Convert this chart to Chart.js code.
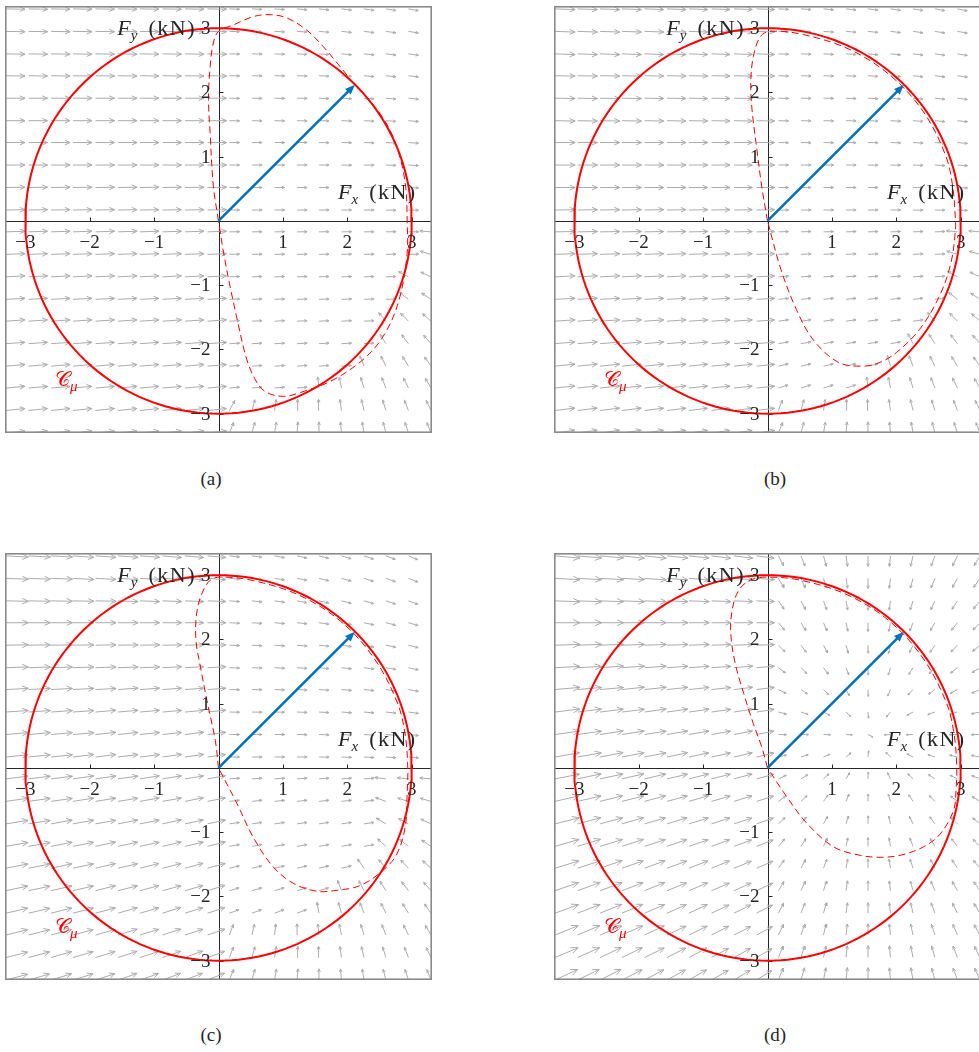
<!DOCTYPE html>
<html>
<head>
<meta charset="utf-8">
<script src="https://cdn.jsdelivr.net/npm/chart.js@4.4.1/dist/chart.umd.min.js"></script>
<style>
  body{margin:0;background:#fff;width:979px;height:1052px;overflow:hidden;position:relative;font-family:"Liberation Serif","DejaVu Serif",serif;color:#262626;}
  .panel{position:absolute;width:427px;height:427px;}
  .panel canvas{position:absolute;left:0;top:0;}
  .lbl{position:absolute;font-size:22px;line-height:22px;white-space:nowrap;}
  .lbl sub{font-size:15px;vertical-align:-5px;line-height:0;}
  .lbl .u{letter-spacing:1.5px;}
  .cmu{color:#ff0000;font-size:21px;}
  .cap{position:absolute;font-size:19px;width:60px;text-align:center;}
</style>
</head>
<body>
<div class="panel" id="pA" style="left:5px;top:6px"><canvas id="cA" width="427" height="427"></canvas></div>
<div class="panel" id="pB" style="left:554px;top:6px"><canvas id="cB" width="427" height="427"></canvas></div>
<div class="panel" id="pC" style="left:5px;top:553px"><canvas id="cC" width="427" height="427"></canvas></div>
<div class="panel" id="pD" style="left:554px;top:553px"><canvas id="cD" width="427" height="427"></canvas></div>
<div class="cap" style="left:181px;top:468px">(a)</div>
<div class="cap" style="left:745px;top:468px">(b)</div>
<div class="cap" style="left:181px;top:1024px">(c)</div>
<div class="cap" style="left:745px;top:1024px">(d)</div>
<script>
// axes (kN)
const X_RANGE = [-3.316, 3.316];
const Y_RANGE = [-3.30, 3.345];
const TICKS = [-3, -2, -1, 1, 2, 3];
// quiver grid, tail positions
const gridX = [-3.3,-2.95,-2.6,-2.26,-1.91,-1.56,-1.22,-0.87,-0.52,-0.17,0.17,0.52,0.87,1.22,1.56,1.91,2.26,2.6,2.95,3.3];
const gridY = [3.3,2.95,2.6,2.26,1.91,1.56,1.22,0.87,0.52,0.17,-0.17,-0.52,-0.87,-1.22,-1.56,-1.91,-2.26,-2.6,-2.95,-3.3];
const circleR = 3;          // friction circle C_mu
const blueTip = [2.12, 2.12];

// dashed force paths, one per panel
const dashAx = [0,-0.08,-0.13,-0.155,-0.13,-0.08,0,0.23,0.54,0.80,1.06,1.37,1.63,1.89,2.12,2.45,2.67,2.83,2.91,2.93,2.93,2.82,2.62,2.31,1.79,1.27,1.01,0.75,0.60,0.44,0.29,0.18,0.08,0];
const dashAy = [0,0.54,1.37,1.89,2.40,2.77,2.95,3.05,3.18,3.21,3.16,2.97,2.71,2.40,2.12,1.75,1.40,0.95,0.5,0,-0.5,-1.17,-1.69,-2.10,-2.47,-2.67,-2.73,-2.67,-2.52,-2.16,-1.53,-1.02,-0.50,0];
const dashBx = [0,-0.09,-0.165,-0.24,-0.26,-0.22,-0.11,0.04,0.51,1.25,1.9,2.42,2.77,2.88,2.92,2.92,2.85,2.67,2.36,2.0,1.75,1.48,1.1,0.71,0.45,0.21,0];
const dashBy = [0,0.54,1.11,1.73,2.15,2.56,2.87,2.95,2.91,2.68,2.27,1.70,1.01,0.51,0,-0.14,-0.65,-1.17,-1.69,-2.05,-2.2,-2.26,-2.2,-1.85,-1.38,-0.76,0];
const dashCx = [0,-0.05,-0.18,-0.28,-0.35,-0.34,-0.26,-0.13,0.03,0.52,1.25,1.9,2.42,2.78,2.9,2.94,2.93,2.90,2.77,2.56,2.20,1.79,1.53,1.17,0.85,0.54,0.29,0];
const dashCy = [0,0.43,1.05,1.57,1.98,2.40,2.71,2.92,2.97,2.92,2.69,2.28,1.70,1.01,0.51,0,-0.4,-0.92,-1.34,-1.59,-1.83,-1.91,-1.92,-1.80,-1.54,-1.08,-0.56,0];
const dashDx = [0,-0.09,-0.22,-0.37,-0.50,-0.57,-0.55,-0.45,-0.27,0,0.52,1.25,1.9,2.42,2.78,2.9,2.94,2.93,2.89,2.68,2.42,2.06,1.75,1.44,1.03,0.61,0.30,0];
const dashDy = [0,0.33,0.69,1.16,1.62,2.08,2.45,2.76,2.92,2.97,2.92,2.69,2.28,1.70,1.01,0.51,0,-0.3,-0.66,-1.03,-1.23,-1.36,-1.39,-1.36,-1.23,-0.86,-0.45,0];

// quiver: angle (deg) per arrow, rows top->bottom, columns left->right
const angA = [
  [-1,-1,-1,-1,-1,-1,-1,-1,-1,-1,-2,-3,-4,-5,-6,-7,-8,-9,-10,-11],
  [-1,-1,-1,-1,-1,-1,-1,-1,-1,-1,-2,-2,-3,-4,-5,-6,-7,-8,-9,-10],
  [-1,-1,-1,-1,-1,-1,-1,-1,-1,-1,-1,-1,-2,-3,-4,-5,-6,-7,-8,-9],
  [-1,-1,-1,-1,-1,-1,-1,-1,-1,-1,-1,-1,-1,-2,-3,-4,-5,-6,-7,-8],
  [0,0,0,0,0,0,0,0,0,0,-1,-1,-1,-1,-2,-3,-4,-5,-6,-7],
  [0,0,0,0,0,0,0,0,0,0,-1,-1,-1,-1,-1,-2,-3,-4,-5,-6],
  [0,0,0,0,0,0,0,0,0,0,0,0,0,0,-1,-1,-2,-3,-4,-5],
  [0,0,0,0,0,0,0,0,0,0,0,0,0,0,0,-1,-1,-2,-3,-4],
  [1,1,1,1,1,1,1,1,1,1,0,0,0,0,0,0,-1,-1,-2,-3],
  [1,1,1,1,1,1,1,1,1,1,0,0,0,0,0,0,0,-1,-1,-2],
  [2,2,2,2,2,2,2,2,2,2,1,1,1,1,1,1,1,1,1,175],
  [2,2,2,2,2,2,2,2,2,2,1,1,1,1,1,1,1,1,1,164],
  [3,3,3,3,3,3,3,3,3,3,2,2,2,2,2,2,2,2,152,155],
  [3,3,3,3,3,3,3,3,3,3,2,2,2,2,2,2,2,2,142,146],
  [4,4,4,4,4,4,4,4,4,4,3,3,3,3,3,3,3,130,134,138],
  [4,4,4,4,4,4,4,4,4,4,3,3,3,3,3,3,3,122,127,131],
  [5,5,5,5,5,5,5,5,5,5,4,4,4,4,4,4,111,116,121,125],
  [5,5,5,5,5,5,5,5,5,5,5,5,5,5,96,101,107,111,116,120],
  [6,6,6,6,6,6,6,6,6,6,62,75,81,87,92,98,103,107,111,115],
  [6,6,6,6,6,6,6,6,6,6,69,75,80,85,90,95,99,104,108,111]
];
const angB = [
  [-2,-2,-2,-2,-2,-2,-2,-2,-2,-2,-3,-4,-5,-6,-7,-8,-9,-10,-11,-12],
  [-2,-2,-2,-2,-2,-2,-2,-2,-2,-2,-3,-3,-4,-5,-6,-7,-8,-9,-10,-11],
  [-2,-2,-2,-2,-2,-2,-2,-2,-2,-2,-2,-2,-3,-4,-5,-6,-7,-8,-9,-10],
  [-1,-1,-1,-1,-1,-1,-1,-1,-1,-1,-2,-2,-2,-3,-4,-5,-6,-7,-8,-9],
  [-1,-1,-1,-1,-1,-1,-1,-1,-1,-1,-1,-1,-1,-2,-3,-4,-5,-6,-7,-8],
  [-1,-1,-1,-1,-1,-1,-1,-1,-1,-1,-1,-1,-1,-1,-2,-3,-4,-5,-6,-7],
  [0,0,0,0,0,0,0,0,0,0,-1,-1,-1,-1,-1,-2,-3,-4,-5,-6],
  [0,0,0,0,0,0,0,0,0,0,0,0,0,0,-1,-1,-2,-3,-4,-5],
  [0,0,0,0,0,0,0,0,0,0,0,0,0,0,0,-1,-1,-2,-3,-4],
  [1,1,1,1,1,1,1,1,1,1,0,0,0,0,0,0,-1,-1,-2,-3],
  [1,1,1,1,1,1,1,1,1,1,2,2,2,2,2,2,2,2,174,175],
  [2,2,2,2,2,2,2,2,2,2,3,3,3,3,3,3,3,3,163,164],
  [3,3,3,3,3,3,3,3,3,3,4,4,4,4,4,4,4,4,152,155],
  [3,3,3,3,3,3,3,3,3,3,6,6,6,6,6,6,6,6,142,146],
  [4,4,4,4,4,4,4,4,4,4,8,8,8,8,8,8,8,130,134,138],
  [5,5,5,5,5,5,5,5,5,5,10,10,10,10,10,10,117,122,127,131],
  [6,6,6,6,6,6,6,6,6,6,13,13,13,13,13,106,111,116,121,125],
  [6,6,6,6,6,6,6,6,6,6,17,17,17,17,96,101,107,111,116,120],
  [7,7,7,7,7,7,7,7,7,7,70,75,81,87,92,98,103,107,111,115],
  [8,8,8,8,8,8,8,8,8,8,69,75,80,85,90,95,99,104,108,111]
];
const angC = [
  [-3,-3,-3,-4,-4,-4,-4,-5,-5,-5,-6,-8,-10,-12,-14,-16,-18,-20,-22,-24],
  [-2,-2,-2,-3,-3,-3,-3,-3,-4,-4,-5,-7,-9,-11,-13,-15,-17,-19,-21,-23],
  [-1,-1,-1,-1,-1,-2,-2,-2,-2,-2,-4,-6,-8,-10,-12,-14,-16,-18,-20,-22],
  [0,0,0,0,0,0,0,0,0,0,-3,-4,-5,-6,-8,-10,-12,-14,-16,-18],
  [1,1,1,1,1,1,1,1,1,1,-2,-3,-4,-5,-6,-8,-10,-12,-14,-16],
  [2,2,2,2,2,2,2,3,3,3,-2,-2,-3,-4,-5,-6,-8,-10,-12,-14],
  [3,3,3,3,3,4,4,4,4,4,-1,-1,-2,-3,-4,-5,-6,-8,-10,-12],
  [4,4,4,4,5,5,5,5,5,6,-1,-1,-1,-2,-3,-4,-5,-6,-8,-10],
  [5,5,5,5,6,6,6,6,7,7,0,0,0,-1,-2,-3,-4,-5,-6,-8],
  [6,6,6,7,7,7,7,8,8,8,0,0,0,0,-1,-2,-3,-4,-5,-6],
  [7,7,7,8,8,8,9,9,9,10,4,4,4,4,4,4,4,173,174,175],
  [8,8,8,9,9,9,10,10,11,11,6,6,6,6,6,6,6,160,163,164],
  [9,9,10,10,10,11,11,12,12,12,8,8,8,8,8,8,8,149,152,155],
  [10,10,11,11,12,12,12,13,13,14,10,10,10,10,10,10,10,138,142,146],
  [11,11,12,12,13,13,14,14,15,15,13,13,13,13,13,13,125,130,134,138],
  [12,12,13,13,14,14,15,15,16,17,16,16,16,16,16,111,117,122,127,131],
  [13,13,14,14,15,16,16,17,17,18,20,20,20,20,100,106,111,116,121,125],
  [14,14,15,15,16,17,17,18,18,19,70,77,83,90,96,101,107,111,116,120],
  [14,15,16,16,17,18,18,19,20,20,70,75,81,87,92,98,103,107,111,115],
  [15,16,17,17,18,19,19,20,21,22,69,75,80,85,90,95,99,104,108,111]
];
const angD = [
  [-5,-5,-5,-6,-6,-6,-6,-7,-7,-7,-63,-69,-75,-82,-89,-96,-103,-110,-116,-121],
  [-3,-3,-3,-3,-4,-4,-4,-4,-4,-4,-60,-66,-73,-81,-89,-97,-105,-112,-119,-125],
  [-2,-2,-2,-2,-2,-2,-2,-2,-2,-2,-56,-63,-71,-80,-89,-98,-107,-115,-123,-129],
  [0,0,0,0,0,0,0,0,0,0,-51,-59,-68,-78,-89,-100,-111,-120,-128,-134],
  [2,2,2,2,2,2,2,2,2,2,-45,-53,-63,-75,-88,-102,-115,-125,-134,-140],
  [3,3,4,4,4,4,4,4,5,5,-37,-45,-55,-70,-88,-106,-122,-133,-142,-148],
  [5,5,5,6,6,6,6,6,7,7,-27,-34,-45,-62,-87,-113,-133,-144,-152,-157],
  [7,7,7,7,8,8,8,8,9,9,-15,-19,-27,-44,-84,-130,-151,-160,-165,-168],
  [8,8,9,9,9,10,10,10,11,11,-1,-1,-2,-3,-27,-176,-178,-179,-179,-179],
  [10,10,11,11,11,12,12,12,13,13,13,17,24,41,83,133,153,162,166,169],
  [11,12,12,13,13,13,14,14,15,15,25,32,43,60,87,115,135,146,154,159],
  [13,13,14,14,15,15,16,16,17,17,36,43,54,70,88,107,123,134,143,149],
  [14,15,15,16,16,17,17,18,18,19,44,52,62,74,88,103,116,126,135,141],
  [16,17,17,18,18,19,19,20,20,21,50,58,67,78,89,100,111,120,128,135],
  [17,18,19,19,20,20,21,22,22,23,55,62,70,80,89,99,108,116,123,130],
  [19,20,20,21,22,22,23,23,24,25,59,66,73,81,89,97,105,113,119,125],
  [20,21,22,23,23,24,25,25,26,27,63,69,75,82,89,96,103,110,116,122],
  [22,23,23,24,25,25,26,27,27,28,65,71,77,83,89,96,102,108,113,119],
  [23,24,25,26,26,27,28,28,29,30,68,73,78,84,89,95,101,106,111,116],
  [25,26,27,27,28,29,30,30,31,32,69,74,79,84,89,95,100,105,110,114]
];

// arrow lengths in tenths of a grid step: left half per column, right half per arrow
const lenLeftA = [8.5,8.5,8.5,8.5,8.5,8.5,8.5,8.5,8.5,8.5];
const lenLeftB = [9,8.9,8.8,8.7,8.6,8.5,8.4,8.3,8.2,8.1];
const lenLeftC = [10,9.8,9.6,9.4,9.2,9,8.8,8.6,8.4,8.2];
const lenLeftD = [11.2,10.8,10.5,10.1,9.8,9.4,9.1,8.7,8.4,8.0];
const lenRightA = [
  [4.5,4.5,4.5,4.5,4.5,4.5,4.5,4.5,4.5,4.5],[4.5,4.5,4.5,4.5,4.5,4.5,4.5,4.5,4.5,4.5],[4.5,4.5,4.5,4.5,4.5,4.5,4.5,4.5,4.5,4.5],[4.5,4.5,4.5,4.5,4.5,4.5,4.5,4.5,4.5,4.5],
  [4.5,4.5,4.5,4.5,4.5,4.5,4.5,4.5,4.5,4.5],[4.5,4.5,4.5,4.5,4.5,4.5,4.5,4.5,4.5,4.5],[4.5,4.5,4.5,4.5,4.5,4.5,4.5,4.5,4.5,4.5],[4.5,4.5,4.5,4.5,4.5,4.5,4.5,4.5,4.5,4.5],
  [4.5,4.5,4.5,4.5,4.5,4.5,4.5,4.5,4.5,4.5],[4.5,4.5,4.5,4.5,4.5,4.5,4.5,4.5,4.5,4.5],[4.5,4.5,4.5,4.5,4.5,4.5,4.5,4.5,4.5,5],[4.5,4.5,4.5,4.5,4.5,4.5,4.5,4.5,4.5,5],
  [4.5,4.5,4.5,4.5,4.5,4.5,4.5,4.5,5,5],[4.5,4.5,4.5,4.5,4.5,4.5,4.5,4.5,5,5],[4.5,4.5,4.5,4.5,4.5,4.5,4.5,5,5,5],[4.5,4.5,4.5,4.5,4.5,4.5,4.5,5,5,5],
  [4.5,4.5,4.5,4.5,4.5,4.5,5,5,5,5],[4.5,4.5,4.5,4.5,5,5,5,5,5,5],[5,5,5,5,5,5,5,5,5,5],[5,5,5,5,5,5,5,5,5,5]
];
const lenRightB = [
  [4.5,4.5,4.5,4.5,4.5,4.5,4.5,4.5,4.5,4.5],[4.5,4.5,4.5,4.5,4.5,4.5,4.5,4.5,4.5,4.5],[4.5,4.5,4.5,4.5,4.5,4.5,4.5,4.5,4.5,4.5],[4.5,4.5,4.5,4.5,4.5,4.5,4.5,4.5,4.5,4.5],
  [4.5,4.5,4.5,4.5,4.5,4.5,4.5,4.5,4.5,4.5],[4.5,4.5,4.5,4.5,4.5,4.5,4.5,4.5,4.5,4.5],[4.5,4.5,4.5,4.5,4.5,4.5,4.5,4.5,4.5,4.5],[4.5,4.5,4.5,4.5,4.5,4.5,4.5,4.5,4.5,4.5],
  [4.5,4.5,4.5,4.5,4.5,4.5,4.5,4.5,4.5,4.5],[4.5,4.5,4.5,4.5,4.5,4.5,4.5,4.5,4.5,4.5],[4.5,4.5,4.5,4.5,4.5,4.5,4.5,4.5,5,5],[4.5,4.5,4.5,4.5,4.5,4.5,4.5,4.5,5,5],
  [4.5,4.5,4.5,4.5,4.5,4.5,4.5,4.5,5,5],[4.5,4.5,4.5,4.5,4.5,4.5,4.5,4.5,5,5],[4.5,4.5,4.5,4.5,4.5,4.5,4.5,5,5,5],[4.5,4.5,4.5,4.5,4.5,4.5,5,5,5,5],
  [4.5,4.5,4.5,4.5,4.5,5,5,5,5,5],[4.5,4.5,4.5,4.5,5,5,5,5,5,5],[5,5,5,5,5,5,5,5,5,5],[5,5,5,5,5,5,5,5,5,5]
];
const lenRightC = [
  [4.5,4.5,4.5,4.5,4.5,4.5,4.5,4.5,4.5,4.5],[4.5,4.5,4.5,4.5,4.5,4.5,4.5,4.5,4.5,4.5],[4.5,4.5,4.5,4.5,4.5,4.5,4.5,4.5,4.5,4.5],[4.5,4.5,4.5,4.5,4.5,4.5,4.5,4.5,4.5,4.5],
  [4.5,4.5,4.5,4.5,4.5,4.5,4.5,4.5,4.5,4.5],[4.5,4.5,4.5,4.5,4.5,4.5,4.5,4.5,4.5,4.5],[4.5,4.5,4.5,4.5,4.5,4.5,4.5,4.5,4.5,4.5],[4.5,4.5,4.5,4.5,4.5,4.5,4.5,4.5,4.5,4.5],
  [4.5,4.5,4.5,4.5,4.5,4.5,4.5,4.5,4.5,4.5],[4.5,4.5,4.5,4.5,4.5,4.5,4.5,4.5,4.5,4.5],[4.5,4.5,4.5,4.5,4.5,4.5,4.5,5,5,5],[4.5,4.5,4.5,4.5,4.5,4.5,4.5,5,5,5],
  [4.5,4.5,4.5,4.5,4.5,4.5,4.5,5,5,5],[4.5,4.5,4.5,4.5,4.5,4.5,4.5,5,5,5],[4.5,4.5,4.5,4.5,4.5,4.5,5,5,5,5],[4.5,4.5,4.5,4.5,4.5,5,5,5,5,5],
  [4.5,4.5,4.5,4.5,5,5,5,5,5,5],[5,5,5,5,5,5,5,5,5,5],[5,5,5,5,5,5,5,5,5,5],[5,5,5,5,5,5,5,5,5,5]
];
const lenRightD = [
  [5.0,4.9,4.8,4.8,4.7,4.8,4.8,4.9,5.0,5.1],[4.8,4.6,4.5,4.5,4.5,4.5,4.5,4.6,4.7,4.9],
  [4.5,4.4,4.3,4.2,4.2,4.2,4.3,4.4,4.5,4.7],[4.3,4.1,4.0,3.9,3.9,3.9,4.0,4.1,4.3,4.5],
  [4.1,3.9,3.8,3.7,3.6,3.7,3.7,3.9,4.1,4.3],[3.9,3.7,3.5,3.4,3.3,3.4,3.5,3.7,3.9,4.1],
  [3.8,3.5,3.3,3.1,3.1,3.1,3.3,3.5,3.7,4.0],[3.7,3.4,3.2,2.9,2.8,2.9,3.1,3.4,3.6,3.9],
  [3.6,3.4,3.1,2.8,2.5,2.7,3.0,3.3,3.6,3.9],[3.7,3.4,3.1,2.9,2.8,2.9,3.1,3.3,3.6,3.9],
  [3.8,3.5,3.3,3.1,3.0,3.1,3.3,3.5,3.7,4.0],[3.9,3.7,3.5,3.4,3.3,3.4,3.5,3.6,3.9,4.1],
  [4.1,3.9,3.7,3.6,3.6,3.6,3.7,3.9,4.0,4.2],[4.3,4.1,4.0,3.9,3.9,3.9,4.0,4.1,4.3,4.4],
  [4.5,4.4,4.3,4.2,4.1,4.2,4.2,4.3,4.5,4.6],[4.7,4.6,4.5,4.5,4.4,4.4,4.5,4.6,4.7,4.9],
  [5.0,4.9,4.8,4.7,4.7,4.7,4.8,4.9,5.0,5.1],[5.2,5.1,5.0,5.0,5.0,5.0,5.0,5.1,5.2,5.3],
  [5.5,5.4,5.3,5.3,5.3,5.3,5.3,5.4,5.5,5.6],[5.7,5.7,5.6,5.6,5.5,5.5,5.6,5.6,5.7,5.8]
];

const SERIF = '"Liberation Serif","DejaVu Serif",serif';
const STEP = 0.0347;   // a tenth of the grid step, in kN

function quiver(ang, lenLeft, lenRight){
  const pts = [];
  for (let r = 0; r < gridY.length; r++) {
    for (let c = 0; c < gridX.length; c++) {
      const L = (c < 10 ? lenLeft[c] : lenRight[r][c-10]) * STEP;
      const a = ang[r][c] * Math.PI / 180;
      const x0 = gridX[c], y0 = gridY[r];
      const x1 = x0 + L*Math.cos(a), y1 = y0 + L*Math.sin(a);
      const h = 0.3 * L, w = 0.42;
      pts.push({x:x0,y:y0},{x:x1,y:y1},{x:x1,y:null},
        {x:x1-h*Math.cos(a-w),y:y1-h*Math.sin(a-w)},{x:x1,y:y1},
        {x:x1-h*Math.cos(a+w),y:y1-h*Math.sin(a+w)},{x:x1,y:null});
    }
  }
  return pts;
}
function circlePts(){
  const p = [];
  for (let k = 0; k <= 360; k += 2) { const t = k*Math.PI/180; p.push({x:circleR*Math.cos(t), y:circleR*Math.sin(t)}); }
  return p;
}
const zip = (xs, ys) => xs.map((x,i) => ({x, y:ys[i]}));
const fmt = v => (v < 0 ? '\u2212' + Math.abs(v) : String(v));

// axes through the origin, ticks, labels, blue arrow head and the frame
const framePlugin = {
  id:'frame',
  beforeDatasetsDraw(chart){
    const {ctx, chartArea:a, scales:{x, y}} = chart;
    const px = Math.round(x.getPixelForValue(0)) + 0.5, py = Math.round(y.getPixelForValue(0)) + 0.5;
    ctx.save();
    ctx.strokeStyle = '#262626'; ctx.lineWidth = 1;
    ctx.beginPath();
    ctx.moveTo(a.left, py); ctx.lineTo(a.right, py);
    ctx.moveTo(px, a.top); ctx.lineTo(px, a.bottom);
    TICKS.forEach(v => {
      const tx = Math.round(x.getPixelForValue(v)) + 0.5, ty = Math.round(y.getPixelForValue(v)) + 0.5;
      ctx.moveTo(tx, py); ctx.lineTo(tx, py - 4);
      ctx.moveTo(px, ty); ctx.lineTo(px + 4, ty);
    });
    ctx.stroke();
    ctx.restore();
  },
  afterDatasetsDraw(chart){
    const {ctx, scales:{x, y}} = chart;
    const tx = x.getPixelForValue(blueTip[0]), ty = y.getPixelForValue(blueTip[1]);
    const ox = x.getPixelForValue(0), oy = y.getPixelForValue(0);
    const ang = Math.atan2(ty-oy, tx-ox), hl = 10, hw = 4;
    ctx.save(); ctx.fillStyle = '#0072bd';
    ctx.beginPath(); ctx.moveTo(tx, ty);
    ctx.lineTo(tx - hl*Math.cos(ang) + hw*Math.sin(ang), ty - hl*Math.sin(ang) - hw*Math.cos(ang));
    ctx.lineTo(tx - hl*Math.cos(ang) - hw*Math.sin(ang), ty - hl*Math.sin(ang) + hw*Math.cos(ang));
    ctx.closePath(); ctx.fill();
    // tick labels
    ctx.fillStyle = '#262626'; ctx.font = '19px ' + SERIF;
    ctx.textAlign = 'center'; ctx.textBaseline = 'middle';
    TICKS.forEach(v => ctx.fillText(fmt(v), x.getPixelForValue(v), oy + 22));
    ctx.textAlign = 'right';
    TICKS.forEach(v => ctx.fillText(fmt(v), ox - 8, y.getPixelForValue(v) + 1));
    ctx.restore();
  },
  afterDraw(chart){
    const {ctx, chartArea:a} = chart;
    ctx.save(); ctx.strokeStyle = '#8a8a8a'; ctx.lineWidth = 1.6;
    ctx.strokeRect(a.left+0.8, a.top+0.8, a.right-a.left-1.6, a.bottom-a.top-1.6);
    ctx.restore();
  }
};

function makeChart(id, ang, lenLeft, lenRight, dx, dy){
  const back = 0.04;
  return new Chart(document.getElementById(id), {
    type:'scatter',
    data:{datasets:[
      {data:[{x:0,y:0},{x:blueTip[0]*(1-back),y:blueTip[1]*(1-back)}], showLine:true, borderColor:'#0072bd', borderWidth:2.6, pointRadius:0},
      {data:circlePts(), showLine:true, borderColor:'#ff0000', borderWidth:2, pointRadius:0},
      {data:zip(dx, dy), showLine:true, borderColor:'#ff0000', borderWidth:1, borderDash:[7,4], pointRadius:0, tension:0.35},
      {data:quiver(ang, lenLeft, lenRight), showLine:true, spanGaps:false, borderColor:'#acacac', borderWidth:1, pointRadius:0}
    ]},
    options:{
      responsive:false, animation:false, events:[],
      layout:{padding:0},
      plugins:{legend:{display:false}, tooltip:{enabled:false}},
      scales:{
        x:{type:'linear', min:X_RANGE[0], max:X_RANGE[1], display:false},
        y:{type:'linear', min:Y_RANGE[0], max:Y_RANGE[1], display:false}
      }
    },
    plugins:[framePlugin]
  });
}

makeChart('cA', angA, lenLeftA, lenRightA, dashAx, dashAy);
makeChart('cB', angB, lenLeftB, lenRightB, dashBx, dashBy);
makeChart('cC', angC, lenLeftC, lenRightC, dashCx, dashCy);
makeChart('cD', angD, lenLeftD, lenRightD, dashDx, dashDy);

// axis names and the friction circle label
['pA','pB','pC','pD'].forEach(id => {
  document.getElementById(id).insertAdjacentHTML('beforeend',
    '<div class="lbl" style="right:236px;top:11px"><i>F</i><sub><i>y</i></sub>&nbsp;&nbsp;<span class="u">(kN)</span></div>' +
    '<div class="lbl" style="left:333px;top:175px"><i>F</i><sub><i>x</i></sub>&nbsp;&nbsp;<span class="u">(kN)</span></div>' +
    '<div class="lbl cmu" style="left:50px;top:362px">\u{1D49E}<sub><i>\u03BC</i></sub></div>');
});
</script>
</body>
</html>
